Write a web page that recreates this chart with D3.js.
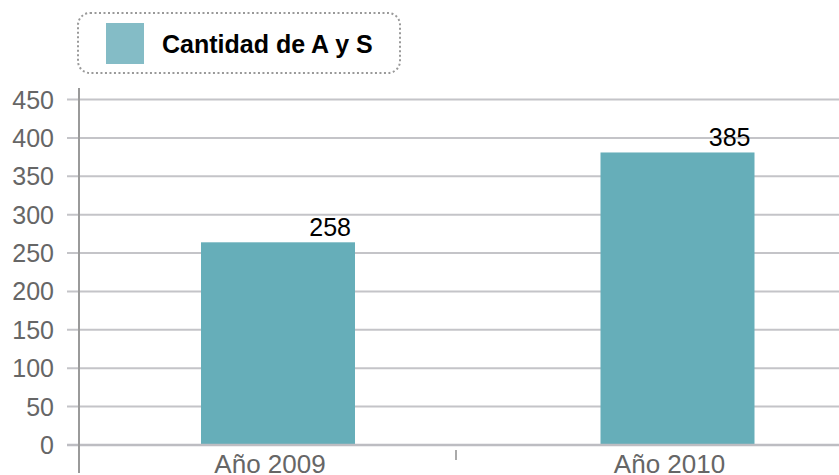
<!doctype html>
<html lang="es">
<head>
<meta charset="UTF-8" />
<title>Cantidad de A y S</title>
<script src="https://d3js.org/d3.v7.min.js"></script>
<style>
  body { margin: 0; background: #fff; }
  svg { display: block; font-family: "Liberation Sans", Arial, Helvetica, sans-serif; }
</style>
</head>
<body>
<div id="chart"></div>
<script>
// data
var categories = ["Año 2009", "Año 2010"];
var barValues = [264, 381];          // bar heights as drawn
var valueLabels = ["258", "385"];    // labels printed above bars
var yTicks = [0, 50, 100, 150, 200, 250, 300, 350, 400, 450];
var seriesName = "Cantidad de A y S";

var width = 839, height = 475;
var plotLeft = 78, plotRight = 839, plotTop = 99.5, plotBottom = 445;

var svg = d3.select("#chart").append("svg")
    .attr("width", width)
    .attr("height", height);

var y = d3.scaleLinear().domain([0, 450]).range([plotBottom, plotTop]);

// category bands (for the tick between them) and bar centres
var xBand = d3.scaleBand().domain(categories).range([plotLeft - 1, 835]);
var xCenter = d3.scalePoint().domain(categories).range([278, 677.5]);
var barWidth = 154;

// gridlines
svg.append("g").selectAll("line")
    .data(yTicks)
    .enter().append("line")
    .attr("x1", 67).attr("x2", plotRight)
    .attr("y1", d => y(d)).attr("y2", d => y(d))
    .attr("stroke", "#c4c4c8")
    .attr("stroke-width", 2);

// y tick labels
svg.append("g").selectAll("text")
    .data(yTicks)
    .enter().append("text")
    .attr("x", 54)
    .attr("y", d => y(d) + 9)
    .attr("text-anchor", "end")
    .attr("font-size", 25)
    .attr("fill", "#666")
    .text(d => d);

// bars
svg.append("g").selectAll("rect")
    .data(categories)
    .enter().append("rect")
    .attr("x", d => xCenter(d) - barWidth / 2)
    .attr("width", barWidth)
    .attr("y", (d, i) => y(barValues[i]))
    .attr("height", (d, i) => plotBottom - y(barValues[i]))
    .attr("fill", "#66aeb9");

// baseline
svg.append("line")
    .attr("x1", 67).attr("x2", plotRight)
    .attr("y1", plotBottom).attr("y2", plotBottom)
    .attr("stroke", "#bdbdc2")
    .attr("stroke-width", 2.5);

// y axis line
svg.append("line")
    .attr("x1", 79).attr("x2", 79)
    .attr("y1", 88).attr("y2", 473)
    .attr("stroke", "#9a9a9a")
    .attr("stroke-width", 2);

// tick between categories
svg.append("line")
    .attr("x1", xBand(categories[1])).attr("x2", xBand(categories[1]))
    .attr("y1", 450).attr("y2", 460)
    .attr("stroke", "#aaa")
    .attr("stroke-width", 2);

// value labels
svg.append("g").selectAll("text")
    .data(categories)
    .enter().append("text")
    .attr("x", d => xCenter(d) + barWidth / 2 - 4)
    .attr("y", (d, i) => y(barValues[i]) - 6)
    .attr("text-anchor", "end")
    .attr("font-size", 25)
    .attr("fill", "#000")
    .text((d, i) => valueLabels[i]);

// category labels
svg.append("g").selectAll("text")
    .data(categories)
    .enter().append("text")
    .attr("x", d => xCenter(d) - 8)
    .attr("y", 473)
    .attr("text-anchor", "middle")
    .attr("font-size", 26)
    .attr("fill", "#666")
    .text(d => d);

// legend
var legend = svg.append("g");
legend.append("rect")
    .attr("x", 78).attr("y", 13)
    .attr("width", 322).attr("height", 60)
    .attr("rx", 12).attr("ry", 12)
    .attr("fill", "none")
    .attr("stroke", "#999")
    .attr("stroke-width", 2)
    .attr("stroke-dasharray", "2,2.5");
legend.append("rect")
    .attr("x", 106).attr("y", 23)
    .attr("width", 38).attr("height", 41)
    .attr("fill", "#84bcc6");
legend.append("text")
    .attr("x", 162).attr("y", 53)
    .attr("font-size", 25)
    .attr("font-weight", "bold")
    .attr("fill", "#000")
    .text(seriesName);
</script>
</body>
</html>
